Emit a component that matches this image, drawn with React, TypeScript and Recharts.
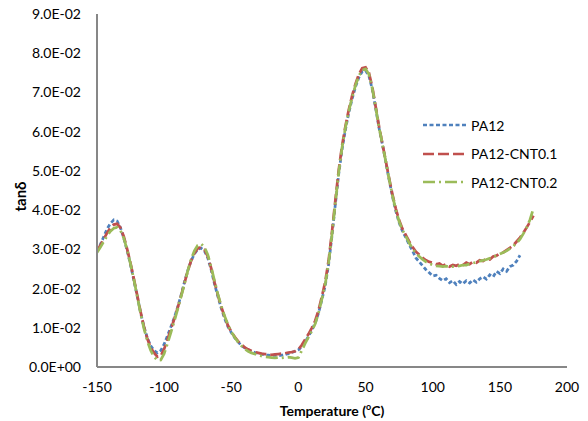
import React from "react";
import { LineChart, Line, XAxis, YAxis, Label } from "recharts";

// Temperature (°C)
const temperature = [
  -150, -147.5, -145, -142.5, -140, -137.5, -135, -132.5, -130, -127.5,
  -125, -122.5, -120, -117.5, -115, -112.5, -110, -107.5, -105, -102.5,
  -100, -97.5, -95, -92.5, -90, -87.5, -85, -82.5, -80, -77.5,
  -75, -72.5, -70, -67.5, -65, -62.5, -60, -57.5, -55, -52.5,
  -50, -47.5, -45, -42.5, -40, -37.5, -35, -32.5, -30, -27.5,
  -25, -22.5, -20, -17.5, -15, -12.5, -10, -7.5, -5, -2.5,
  0, 2.5, 5, 7.5, 10, 12.5, 15, 17.5, 20, 22.5,
  25, 27.5, 30, 32.5, 35, 37.5, 40, 42.5, 45, 47.5,
  50, 52.5, 55, 57.5, 60, 62.5, 65, 67.5, 70, 72.5,
  75, 77.5, 80, 82.5, 85, 87.5, 90, 92.5, 95, 97.5,
  100, 102.5, 105, 107.5, 110, 112.5, 115, 117.5, 120, 122.5,
  125, 127.5, 130, 132.5, 135, 137.5, 140, 142.5, 145, 147.5,
  150, 152.5, 155, 157.5, 160, 162.5, 165, 167.5, 170, 172.5,
  175,
];

// tanδ values in units of 1E-02
const pa12 = [
  2.94, 3.12, 3.32, 3.52, 3.66, 3.75, 3.72, 3.55, 3.28, 2.96,
  2.6, 2.2, 1.8, 1.38, 1.02, 0.74, 0.54, 0.42, 0.36, 0.42,
  0.58, 0.8, 1.02, 1.25, 1.52, 1.82, 2.15, 2.45, 2.7, 2.88,
  3.0, 3.03, 2.96, 2.78, 2.48, 2.12, 1.8, 1.5, 1.24, 1.03,
  0.88, 0.75, 0.64, 0.55, 0.49, 0.44, 0.4, 0.37, 0.35, 0.33,
  0.31, 0.3, 0.29, 0.3, 0.29, 0.3, 0.32, 0.34, 0.37, 0.4,
  0.44, 0.52, 0.64, 0.78, 0.95, 1.12, 1.38, 1.72, 2.08, 2.62,
  3.35, 4.15, 4.92, 5.55, 6.05, 6.48, 6.84, 7.14, 7.38, 7.53,
  7.56, 7.42, 7.08, 6.6, 6.1, 5.68, 5.24, 4.78, 4.35, 3.98,
  3.68, 3.46, 3.3, 3.12, 2.96, 2.78, 2.68, 2.58, 2.48, 2.4,
  2.32, 2.34, 2.26, 2.2, 2.25, 2.15, 2.2, 2.1, 2.18, 2.12,
  2.2, 2.14, 2.22, 2.16, 2.25, 2.3, 2.24, 2.35, 2.3, 2.44,
  2.38, 2.5, 2.44, 2.56, 2.6, 2.7, 2.85, null, null, null,
  null,
];

const pa12Cnt01 = [
  2.96, 3.1, 3.26, 3.42, 3.55, 3.63, 3.65, 3.55, 3.32, 3.0,
  2.64, 2.24, 1.82, 1.4, 1.02, 0.72, 0.5, 0.36, 0.26, 0.28,
  0.46, 0.7, 0.96, 1.22, 1.5, 1.8, 2.12, 2.44, 2.7, 2.9,
  3.02, 3.06, 3.0, 2.82, 2.52, 2.16, 1.84, 1.54, 1.28, 1.06,
  0.9, 0.77, 0.66, 0.57, 0.5, 0.45, 0.41, 0.38, 0.36, 0.34,
  0.33, 0.32, 0.31, 0.32, 0.33, 0.34, 0.35, 0.37, 0.38, 0.4,
  0.45, 0.56, 0.7, 0.84, 1.0, 1.18, 1.45, 1.8, 2.18, 2.72,
  3.45, 4.25, 5.02, 5.64, 6.14, 6.56, 6.92, 7.22, 7.46, 7.62,
  7.64, 7.5, 7.14, 6.64, 6.14, 5.7, 5.26, 4.82, 4.4, 4.04,
  3.74, 3.52, 3.36, 3.2, 3.06, 2.94, 2.86, 2.78, 2.72, 2.68,
  2.66, 2.62, 2.64, 2.58, 2.62, 2.56, 2.6, 2.58, 2.62, 2.6,
  2.66, 2.62, 2.68, 2.66, 2.72, 2.7, 2.76, 2.74, 2.82, 2.84,
  2.9, 2.92, 2.98, 3.04, 3.1, 3.2, 3.3, 3.42, 3.56, 3.7,
  3.86,
];

const pa12Cnt02 = [
  2.92, 3.05, 3.2, 3.34, 3.46, 3.54, 3.56, 3.48, 3.28, 2.98,
  2.62, 2.22, 1.8, 1.36, 0.98, 0.66, 0.42, 0.26, 0.17, 0.18,
  0.34, 0.6, 0.88, 1.16, 1.46, 1.78, 2.1, 2.44, 2.74, 2.96,
  3.1, 3.14, 3.06, 2.86, 2.55, 2.2, 1.86, 1.56, 1.3, 1.08,
  0.9, 0.76, 0.64, 0.54, 0.46, 0.4, 0.36, 0.33, 0.3, 0.28,
  0.26, 0.25, 0.24, 0.23, 0.24, 0.23, 0.24, 0.25, 0.24, 0.22,
  0.24, 0.42, 0.6, 0.76, 0.92, 1.1, 1.38, 1.74, 2.12, 2.66,
  3.38, 4.18, 4.96, 5.6, 6.1, 6.52, 6.88, 7.18, 7.42, 7.57,
  7.6, 7.46, 7.1, 6.62, 6.12, 5.69, 5.25, 4.8, 4.38, 4.01,
  3.71, 3.49, 3.33, 3.16, 3.02, 2.9, 2.82, 2.74, 2.68, 2.64,
  2.6, 2.58, 2.57, 2.56, 2.57, 2.55, 2.56, 2.56, 2.58, 2.6,
  2.6, 2.63, 2.65, 2.67, 2.7, 2.72, 2.74, 2.77, 2.8, 2.84,
  2.88, 2.92, 2.96, 3.02, 3.08, 3.16, 3.26, 3.4, 3.56, 3.76,
  4.04,
];

const xTicks = [-150, -100, -50, 0, 50, 100, 150, 200];
const yTicks = [0, 1, 2, 3, 4, 5, 6, 7, 8, 9];

const seriesNames = ["PA12", "PA12-CNT0.1", "PA12-CNT0.2"];
const seriesKeys = ["pa12", "cnt01", "cnt02"];
const seriesColors = ["#4F81BD", "#C0504D", "#9BBB59"];
const seriesDash = ["4 2.5", "11 4", "12 4 2 4"];

const data = temperature.map((t, i) => ({
  t,
  pa12: pa12[i],
  cnt01: pa12Cnt01[i],
  cnt02: pa12Cnt02[i],
}));

const FONT = "Lato, 'Open Sans', sans-serif";

const fmtY = (v: number) => (v === 0 ? "0.0E+00" : `${v.toFixed(1)}E-02`);

const LegendBox = () => (
  <div
    style={{
      position: "absolute",
      left: 423,
      top: 111,
      fontFamily: FONT,
      fontSize: 14,
      color: "#000",
    }}
  >
    {seriesNames.map((name, i) => (
      <div
        key={name}
        style={{ display: "flex", alignItems: "center", height: 28.5 }}
      >
        <svg width={44} height={10} style={{ display: "block" }}>
          <line
            x1={0}
            y1={5}
            x2={44}
            y2={5}
            stroke={seriesColors[i]}
            strokeWidth={2.5}
            strokeDasharray={seriesDash[i]}
          />
        </svg>
        <span style={{ marginLeft: 4, whiteSpace: "nowrap" }}>{name}</span>
      </div>
    ))}
  </div>
);

export default function App() {
  return (
    <div
      style={{
        position: "absolute",
        left: 0,
        top: 0,
        width: 588,
        height: 421,
        background: "#fff",
        fontFamily: FONT,
      }}
    >
      <LineChart
        width={588}
        height={421}
        data={data}
        margin={{ top: 14, right: 21, bottom: 0, left: 0 }}
      >
        <XAxis
          dataKey="t"
          type="number"
          domain={[-150, 200]}
          ticks={xTicks}
          interval={0}
          height={54}
          axisLine={{ stroke: "#878787", strokeWidth: 2 }}
          tickLine={false}
          tickSize={0}
          tickMargin={15}
          tick={{ fill: "#000", fontSize: 14, fontFamily: FONT }}
          allowDataOverflow
        >
          <Label
            content={(props: any) => {
              const vb = props.viewBox || { x: 97, y: 367, width: 470, height: 54 };
              return (
                <text
                  x={vb.x + vb.width / 2}
                  y={vb.y + 49}
                  textAnchor="middle"
                  fontFamily={FONT}
                  fontSize={14}
                  fontWeight="bold"
                  fill="#000"
                >
                  Temperature (
                  <tspan fontSize={9} dy={-6}>
                    o
                  </tspan>
                  <tspan dy={6}>C)</tspan>
                </text>
              );
            }}
          />
        </XAxis>
        <YAxis
          type="number"
          domain={[0, 9]}
          ticks={yTicks}
          interval={0}
          width={97}
          axisLine={{ stroke: "#878787", strokeWidth: 2 }}
          tickLine={false}
          tickSize={0}
          tickMargin={16}
          tickFormatter={fmtY}
          tick={{ fill: "#000", fontSize: 14, fontFamily: FONT }}
          allowDataOverflow
        >
          <Label
            content={(props: any) => {
              const vb = props.viewBox || { x: 0, y: 14, width: 97, height: 353 };
              const cx = vb.x + 20;
              const cy = vb.y + vb.height / 2 + 6;
              return (
                <text
                  x={cx}
                  y={cy}
                  transform={`rotate(-90, ${cx}, ${cy})`}
                  textAnchor="middle"
                  dominantBaseline="central"
                  fontFamily={FONT}
                  fontSize={15}
                  fontWeight="bold"
                  fill="#000"
                >
                  tanδ
                </text>
              );
            }}
          />
        </YAxis>
        {seriesKeys.map((k, i) => (
          <Line
            key={k}
            dataKey={k}
            name={seriesNames[i]}
            type="linear"
            stroke={seriesColors[i]}
            strokeWidth={2.75}
            strokeDasharray={seriesDash[i]}
            dot={false}
            activeDot={false}
            isAnimationActive={false}
          />
        ))}
      </LineChart>
      <LegendBox />
    </div>
  );
}
